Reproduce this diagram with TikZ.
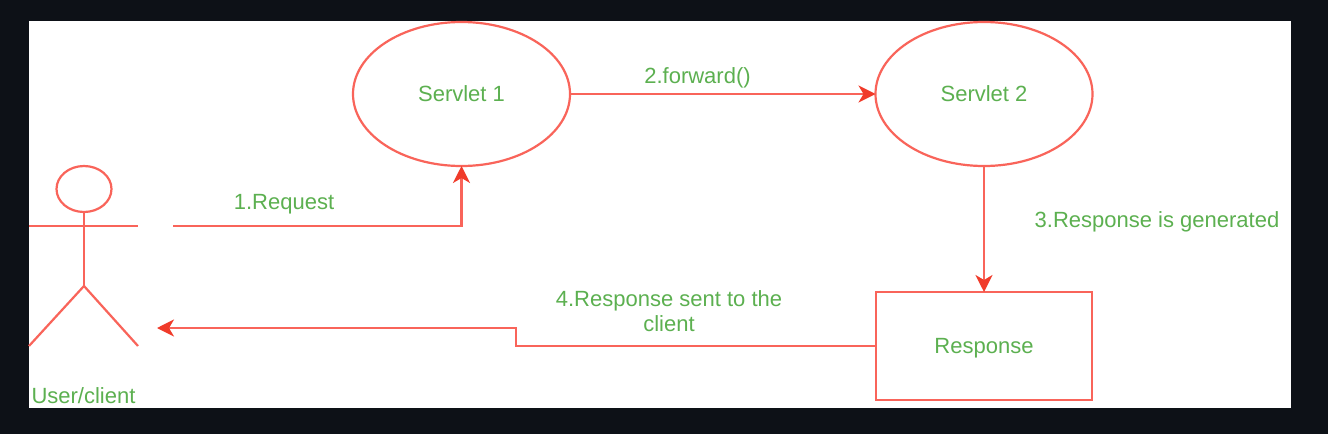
\documentclass[tikz,border=0pt]{standalone}
\usepackage{fontspec}
\setmainfont{Liberation Sans}
\usetikzlibrary{arrows.meta,shapes.geometric}
\definecolor{bgdark}{HTML}{0D1117}
\definecolor{linered}{HTML}{F9645A}
\definecolor{tipred}{HTML}{F03B2A}
\definecolor{txtgreen}{HTML}{5CB050}
\tikzset{
  ln/.style={draw=linered,line width=2.2pt},
  conn/.style={ln,line join=miter,-{Stealth[length=17pt,width=17pt,inset=5pt,color=tipred]}},
  ell/.style={ln,ellipse,minimum width=217pt,minimum height=144pt,inner sep=0pt,outer sep=0pt},
  lab/.style={text=txtgreen,font=\fontsize{22}{25}\selectfont,inner sep=0pt,align=center}
}
\begin{document}
\begin{tikzpicture}[x=1pt,y=-1pt]
\useasboundingbox (0,0) rectangle (1328,434);
\fill[bgdark] (0,0) rectangle (1328,434);
\fill[white] (29,21) rectangle (1291,408);
% nodes
\node[ell,lab] (s1) at (461.5,94) {Servlet 1};
\node[ell,lab] (s2) at (984,94) {Servlet 2};
\node[ln,lab,text depth=0pt,minimum width=216pt,minimum height=108pt,outer sep=0pt] (resp) at (984,346) {Response};
% actor
\node[ln,ellipse,minimum width=55pt,minimum height=46pt,inner sep=0pt,outer sep=0pt] (head) at (84,189) {};
\coordinate (hip) at (84,286);
\coordinate (armL) at (29,226);
\coordinate (armR) at (138,226);
\coordinate (footL) at (29,346);
\coordinate (footR) at (138,346);
\draw[ln] (head.south) -- (hip);
\draw[ln] (armL) -- (armR);
\draw[ln] (footL) -- (hip) -- (footR);
\node[lab] (user) at (83.5,396) {User/client};
% connectors
\coordinate (reqstart) at (173,226);
\coordinate (respend) at (157,328);
\draw[conn] (reqstart) -| (s1.south);
\draw[conn] (s1.east) -- (s2.west);
\draw[conn] (s2.south) -- (resp.north);
\draw[conn] (resp.west) -- (516,346) -- (516,328) -- (respend);
% labels
\node[lab] (l1) at (284,204.5) {1.Request};
\node[lab] (l2) at (697.5,78) {2.forward()};
\node[lab] (l3) at (1157,222) {3.Response is generated};
\node[lab] (l4) at (669,311) {4.Response sent to the\\client};
\end{tikzpicture}
\end{document}
